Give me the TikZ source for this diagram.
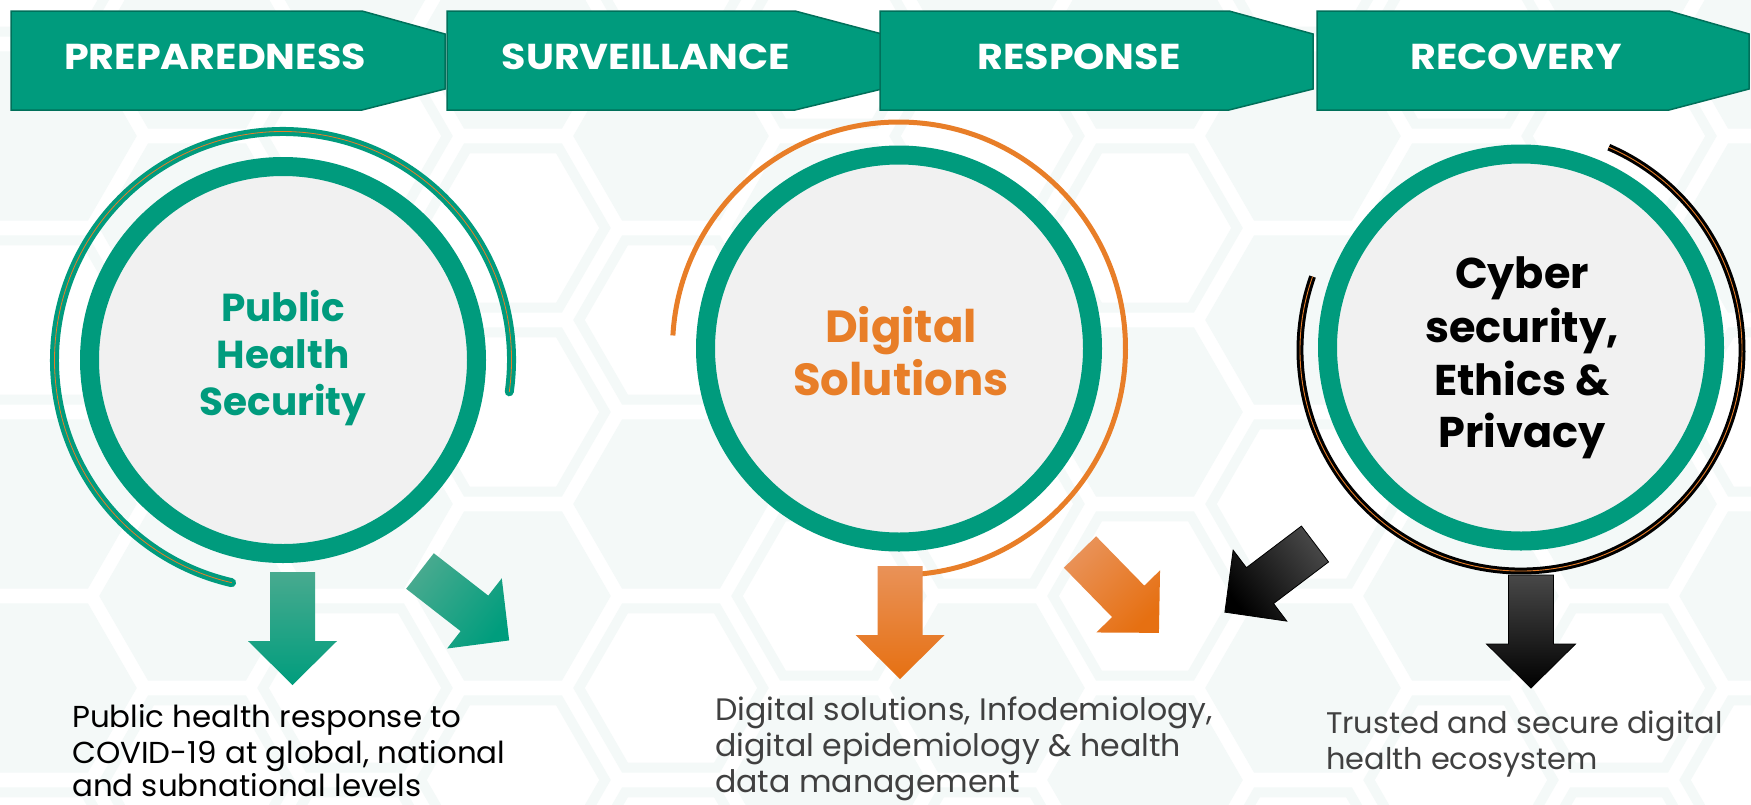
\documentclass[tikz,border=0pt]{standalone}
\usepackage{fontspec}
\setmainfont{Poppins}
\newfontfamily\headfont{Poppins}[FakeStretch=1.1]
\newfontfamily\bodyfont{Poppins}[FakeStretch=1.02]
\usetikzlibrary{calc}

\definecolor{myteal}{RGB}{0,155,125}
\definecolor{tealedge}{RGB}{0,112,90}
\definecolor{myorange}{RGB}{232,126,40}
\definecolor{ringfill}{RGB}{241,241,241}
\definecolor{hexc}{RGB}{244,249,248}
\definecolor{bodygray}{RGB}{64,64,64}
\definecolor{tealA}{RGB}{72,170,143}
\definecolor{tealB}{RGB}{0,157,125}
\definecolor{orA}{RGB}{233,146,88}
\definecolor{orB}{RGB}{230,112,18}
\definecolor{blkA}{RGB}{72,72,72}
\definecolor{blkB}{RGB}{0,0,0}

\newcommand\blockarrow[3]{%
  \pgfmathsetmacro\sang{90-#2}%
  \shade[#3, shading angle=\sang]
    ($(#1)+({#2-90}:22.5)$) -- ($(#1)+(#2:69)+({#2-90}:22.5)$) --
    ($(#1)+(#2:69)+({#2-90}:44.5)$) -- ($(#1)+(#2:113)$) --
    ($(#1)+(#2:69)+({#2+90}:44.5)$) -- ($(#1)+(#2:69)+({#2+90}:22.5)$) --
    ($(#1)+({#2+90}:22.5)$) -- cycle;}

\tikzset{
  banner/.style={fill=myteal, draw=tealedge, line width=1.5},
  bannertext/.style={text=white, font=\headfont\bfseries\fontsize{36}{40}\selectfont, anchor=base, inner sep=0},
  ring/.style={circle, draw=myteal, line width=19, fill=ringfill, minimum size=387, inner sep=0},
  ctext1/.style={text=myteal, font=\bfseries\fontsize{39}{44}\selectfont, anchor=base, inner sep=0},
  ctext2/.style={text=myorange, font=\bfseries\fontsize{45}{50}\selectfont, anchor=base, inner sep=0},
  ctext3/.style={text=black, font=\bfseries\fontsize{43}{48}\selectfont, anchor=base, inner sep=0},
  body/.style={anchor=base west, inner sep=0},
  bodyA/.style={body, text=black, font=\bodyfont\fontsize{30.3}{36}\selectfont},
  bodyB/.style={body, text=bodygray, font=\bodyfont\fontsize{31}{36}\selectfont},
  bodyC/.style={body, text=bodygray, font=\bodyfont\fontsize{29.8}{36}\selectfont},
  tealarrow/.style={top color=tealA, bottom color=tealB},
  orarrow/.style={top color=orA, bottom color=orB},
  blkarrow/.style={top color=blkA, bottom color=blkB, draw=black, line width=0.8},
}

\begin{document}
\begin{tikzpicture}[x=1pt,y=-1pt]
\useasboundingbox (0,0) rectangle (1751,804);
\fill[white] (0,0) rectangle (1751,804);

% background honeycomb
\begin{scope}
\clip (0,0) rectangle (1751,804);
\foreach \hx/\hy in {39/136,39/504,39/688,197/44,197/228,197/596,355/320,355/504,355/-48,
  513/596,513/44,671/136,671/504,829/228,829/412,829/780,987/320,987/688,987/-48,
  1145/412,1145/44,1145/780,1303/136,1303/320,1303/688,1461/228,1461/412,1461/596,
  1619/504,1619/-48,1777/228,1777/596,1777/44}{
  \fill[hexc] (\hx+97,\hy) -- (\hx+48.5,\hy+84) -- (\hx-48.5,\hy+84) -- (\hx-97,\hy)
    -- (\hx-48.5,\hy-84) -- (\hx+48.5,\hy-84) -- cycle;
}
\foreach \k in {-3,...,8}{
  \foreach \j in {-2,...,4}{
    \pgfmathsetmacro\hx{513+158*\k}
    \pgfmathsetmacro\hy{228+184*\j+92*mod(abs(\k),2)}
    \draw[hexc, line width=10] (\hx+92,\hy) -- (\hx+46,\hy+79.7) -- (\hx-46,\hy+79.7)
      -- (\hx-92,\hy) -- (\hx-46,\hy-79.7) -- (\hx+46,\hy-79.7) -- cycle;
  }
}
\end{scope}

% banners
\path[banner] (11,11) -- (362,11) -- (445,34) -- (445,89) -- (362,110) -- (11,110) -- cycle;
\path[banner] (447,11) -- (795,11) -- (882,34) -- (882,89) -- (795,110) -- (447,110) -- cycle;
\path[banner] (880,11) -- (1229,11) -- (1313,34) -- (1313,89) -- (1229,110) -- (880,110) -- cycle;
\path[banner] (1317,11) -- (1669,11) -- (1749,34) -- (1749,89) -- (1669,110) -- (1317,110) -- cycle;
\node[bannertext] (b1) at (215,69.5) {PREPAREDNESS};
\node[bannertext] (b2) at (646,69.5) {SURVEILLANCE};
\node[bannertext] (b3) at (1079,69.5) {RESPONSE};
\node[bannertext] (b4) at (1516,69.5) {RECOVERY};

% circles
\node[ring] (c1) at (283,360) {};
\node[ring] (c2) at (899,348.5) {};
\node[ring] (c3) at (1521,347.5) {};

% outer arcs
\draw[draw=myteal, double=myorange, double distance=0.8, line width=4.1, line cap=round]
  (c1.center) ++(8:228.5) arc[start angle=8, end angle=-257, radius=228.5];
\draw[myorange, line width=5]
  (c2.center) ++(-176.7:226.5) arc[start angle=-176.7, end angle=84.5, radius=226.5];
\coordinate (c3o) at (1521,350);
\draw[draw=black, double=myorange, double distance=0.9, line width=3]
  (c3o) ++(-66.6:221) arc[start angle=-66.6, end angle=199.4, radius=221];

% circle texts
\node[ctext1] (t11) at (283,321) {Public};
\node[ctext1] (t12) at (283,368) {Health};
\node[ctext1] (t13) at (283,415) {Security};
\node[ctext2] (t21) at (901,342) {Digital};
\node[ctext2] (t22) at (901,395) {Solutions};
\node[ctext3] (t31) at (1522,288) {Cyber};
\node[ctext3] (t32) at (1522,342) {security,};
\node[ctext3] (t33) at (1522,395) {Ethics \&};
\node[ctext3] (t34) at (1522,447) {Privacy};

% block arrows
\coordinate (a1d) at (292.5,572);
\coordinate (a1r) at (420,571);
\coordinate (a2d) at (900,566);
\coordinate (a2r) at (1080,552);
\coordinate (a3l) at (1315,544);
\coordinate (a3d) at (1531,575);
\blockarrow{a1d}{90}{tealarrow}
\blockarrow{a1r}{37.9}{tealarrow}
\blockarrow{a2d}{90}{orarrow}
\blockarrow{a2r}{45.7}{orarrow}
\blockarrow{a3l}{142.9}{blkarrow}
\blockarrow{a3d}{90}{blkarrow}

% body texts
\node[bodyA] (p1) at (72,727) {Public health response to};
\node[bodyA] (p2) at (72,763) {COVID-19 at global, national};
\node[bodyA, text depth=0pt] (p3) at (72,796) {and subnational levels};
\node[bodyB] (d1) at (715,720) {Digital solutions, Infodemiology,};
\node[bodyB] (d2) at (715,756) {digital epidemiology \& health};
\node[bodyB] (d3) at (715,792) {data management};
\node[bodyC] (s1) at (1326,733) {Trusted and secure digital};
\node[bodyC] (s2) at (1326,769) {health ecosystem};
\end{tikzpicture}
\end{document}
